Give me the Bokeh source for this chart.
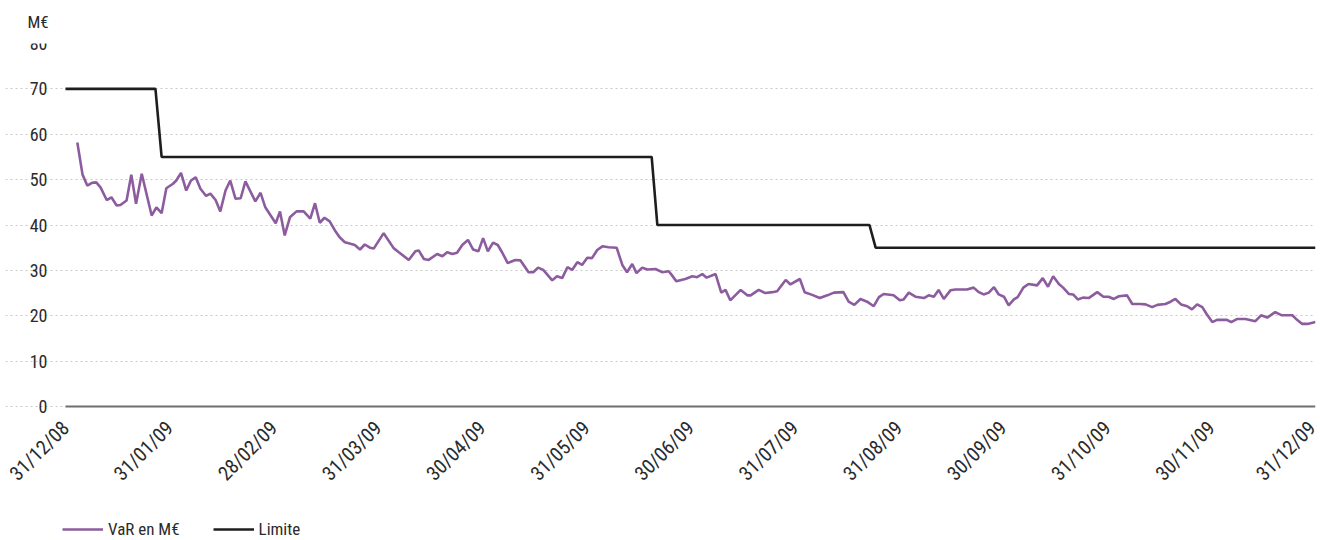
import math
from bokeh.plotting import figure
from bokeh.models import FixedTicker, Legend, LegendItem, Range1d
from bokeh.embed import file_html
from bokeh.resources import INLINE

# ---- data (x = trading-day index, 0 = 31/12/08, 264 = 31/12/09) ----
tick_pos = [0, 22, 44, 66, 88, 110, 132, 154, 176, 198, 220, 242, 264]
tick_labels = ["31/12/08", "31/01/09", "28/02/09", "31/03/09", "30/04/09", "31/05/09",
               "30/06/09", "31/07/09", "31/08/09", "30/09/09", "31/10/09", "30/11/09", "31/12/09"]
y_ticks = [0, 10, 20, 30, 40, 50, 60, 70, 80]

var_x = [2.5, 3.6, 4.6, 5.6, 6.5, 7.4, 8.7, 9.7, 10.8, 11.6, 12.9, 13.9, 14.9, 16.1, 18.2, 19.2,
         20.3, 21.3, 22.7, 23.4, 24.4, 25.5, 26.5, 27.5, 28.5, 29.7, 30.6, 31.7, 32.7, 33.8, 34.8,
         35.9, 37.0, 38.0, 40.1, 41.2, 42.2, 44.4, 45.3, 46.3, 47.4, 48.8, 50.3, 51.7, 52.7, 53.7,
         54.7, 55.8, 56.9, 57.9, 59.0, 60.0, 61.1, 62.2, 63.2, 64.3, 65.1, 67.2, 69.3, 70.4, 72.5,
         73.9, 74.6, 75.7, 76.7, 78.5, 79.6, 80.6, 81.7, 82.7, 83.8, 85.0, 86.1, 87.2, 88.2, 89.2,
         90.3, 91.3, 92.2, 93.4, 95.0, 96.1, 97.8, 98.8, 99.8, 100.9, 102.8, 103.8, 104.9, 106.0,
         107.0, 108.1, 109.1, 110.2, 111.2, 112.3, 113.4, 114.7, 116.4, 117.6, 118.6, 119.7, 120.6,
         121.8, 122.9, 124.6, 126.0, 127.4, 128.1, 129.0, 130.9, 132.4, 133.4, 134.5, 135.4, 137.3,
         138.5, 139.4, 140.4, 142.6, 144.0, 144.7, 146.4, 147.8, 149.3, 150.3, 152.1, 153.1, 155.1,
         156.1, 157.7, 159.3, 160.9, 162.3, 164.3, 165.4, 166.6, 167.9, 169.3, 170.7, 171.8, 172.8,
         174.9, 176.2, 177.0, 178.1, 179.5, 181.3, 182.3, 183.4, 184.4, 185.5, 186.9, 188.0, 190.4,
         191.8, 192.9, 193.9, 195.0, 196.1, 197.1, 198.2, 199.2, 200.3, 201.1, 202.3, 203.4, 205.2,
         206.4, 207.5, 208.6, 209.8, 210.7, 211.9, 212.8, 213.8, 214.9, 216.1, 217.9, 219.2, 220.3,
         221.4, 222.5, 224.2, 225.3, 227.0, 228.1, 229.5, 230.6, 232.3, 233.4, 234.4, 235.6, 236.9,
         237.9, 239.0, 240.1, 241.0, 242.2, 243.2, 245.3, 246.2, 247.5, 249.2, 251.3, 252.5, 253.8,
         255.5, 256.9, 259.1, 260.1, 261.2, 262.3, 264.0]
var_y = [58.2, 51.1, 48.7, 49.3, 49.4, 48.3, 45.5, 46.1, 44.3, 44.4, 45.4, 51.1, 44.7, 51.3, 42.1, 43.9,
         42.6, 48.1, 49.1, 49.8, 51.5, 47.6, 49.8, 50.5, 48.0, 46.4, 46.9, 45.5, 43.0, 47.6, 49.8,
         45.8, 45.9, 49.6, 45.2, 47.1, 43.9, 40.4, 43.0, 37.7, 41.7, 43.0, 43.0, 41.4, 44.8, 40.5,
         41.6, 40.8, 38.8, 37.3, 36.2, 35.9, 35.6, 34.6, 35.7, 35.0, 34.8, 38.2, 34.9, 34.0, 32.3,
         34.2, 34.4, 32.5, 32.3, 33.6, 33.1, 34.0, 33.6, 33.9, 35.6, 36.7, 34.6, 34.2, 37.1, 34.2,
         36.1, 35.6, 34.0, 31.6, 32.3, 32.2, 29.6, 29.6, 30.6, 30.1, 27.8, 28.7, 28.3, 30.7,
         30.1, 31.8, 31.2, 32.8, 32.7, 34.5, 35.3, 35.1, 35.0, 31.2, 29.6, 31.4, 29.4,
         30.6, 30.2, 30.3, 29.6, 29.8, 28.9, 27.6, 28.1, 28.7, 28.5, 29.2, 28.4, 29.2,
         25.1, 25.7, 23.4, 25.7, 24.5, 24.5, 25.7, 25.0, 25.2, 25.4, 27.9, 26.9, 28.1,
         25.2, 24.6, 23.9, 24.5, 25.1, 25.2, 23.1, 22.4, 23.7, 23.1, 22.1, 24.1, 24.8,
         24.5, 23.4, 23.6, 25.1, 24.2, 23.9, 24.5, 24.2, 25.7, 23.7, 25.6, 25.8, 25.8,
         26.2, 25.2, 24.7, 25.1, 26.3, 24.7, 24.2, 22.3, 23.6, 24.1, 26.2, 27.0, 26.7,
         28.3, 26.4, 28.7, 27.0, 26.2, 24.8, 24.7, 23.6, 24.0, 23.9, 25.2, 24.2, 24.2,
         23.7, 24.3, 24.5, 22.6, 22.6, 22.5, 21.9, 22.4, 22.6, 23.1, 23.7, 22.5, 22.1,
         21.4, 22.5, 21.9, 20.4, 18.6, 19.1, 19.1, 18.6, 19.3, 19.3, 18.8, 20.1, 19.6,
         20.8, 20.1, 20.1, 19.1, 18.2, 18.2, 18.6]

lim_x = [0, 19.0, 20.3, 123.8, 125.0, 169.8, 171.1, 264]
lim_y = [70, 70, 55, 55, 40, 40, 35, 35]

FONT = "Liberation Sans Narrow, Roboto Condensed, DejaVu Sans Condensed, sans-serif"
PURPLE = "#8c5c9f"

# frame extends left of 0 and below zero so that all axis labels and the legend sit inside it
p = figure(frame_width=1310, frame_height=497, output_backend="svg", toolbar_location=None,
           x_range=Range1d(-12.67, 264), y_range=Range1d(-29.53, 80),
           min_border_left=5, min_border_right=5, min_border_top=43, min_border_bottom=0)
p.outline_line_color = None
p.background_fill_color = "white"

r_var = p.line(var_x, var_y, line_color=PURPLE, line_width=2.6)
r_lim = p.line(lim_x, lim_y, line_color="#1e1e1e", line_width=2.6)

# x axis drawn at value 0
p.xaxis.fixed_location = 0
p.xaxis.bounds = (0, 264)
p.xaxis.ticker = FixedTicker(ticks=tick_pos)
p.xaxis.major_label_overrides = {t: l for t, l in zip(tick_pos, tick_labels)}
p.xaxis.major_label_orientation = math.pi / 4
p.xaxis.major_tick_line_color = None
p.xaxis.minor_tick_line_color = None
p.xaxis.axis_line_color = "#6e6e6e"
p.xaxis.axis_line_width = 2
p.xaxis.major_label_text_font = FONT
p.xaxis.major_label_text_font_size = "20px"
p.xaxis.major_label_text_color = "#2b2b2b"
p.xaxis.major_label_standoff = 12

# y axis drawn at index 0
p.yaxis.fixed_location = 0
p.yaxis.ticker = FixedTicker(ticks=y_ticks)
p.yaxis.major_tick_line_color = None
p.yaxis.minor_tick_line_color = None
p.yaxis.axis_line_color = None
p.yaxis.major_label_text_font = FONT
p.yaxis.major_label_text_font_size = "18px"
p.yaxis.major_label_text_color = "#2b2b2b"
p.yaxis.major_label_standoff = 12

p.xgrid.grid_line_color = None
p.ygrid.bounds = (0, 264)
p.ygrid.grid_line_color = "#c8c8c8"
p.ygrid.grid_line_dash = "2 3"
p.ygrid.grid_line_width = 1

# unit label
p.title.text = "M€"
p.title.align = "left"
p.title.vertical_align = "top"
p.title.offset = 22
p.title.standoff = 20
p.title.text_font = FONT
p.title.text_font_size = "17px"
p.title.text_font_style = "normal"
p.title.text_color = "#2b2b2b"

legend = Legend(items=[LegendItem(label="VaR en M€", renderers=[r_var]),
                       LegendItem(label="Limite", renderers=[r_lim])],
                orientation="horizontal", location=(57, 1))
legend.label_text_font = FONT
legend.label_text_font_size = "17px"
legend.label_text_color = "#2b2b2b"
legend.glyph_width = 41
legend.glyph_height = 18
legend.label_height = 18
legend.spacing = 33
legend.border_line_color = None
legend.background_fill_alpha = 0
legend.margin = 0
legend.padding = 0
legend.label_standoff = 5
p.add_layout(legend)

open("out.html", "w").write(file_html(p, INLINE))
